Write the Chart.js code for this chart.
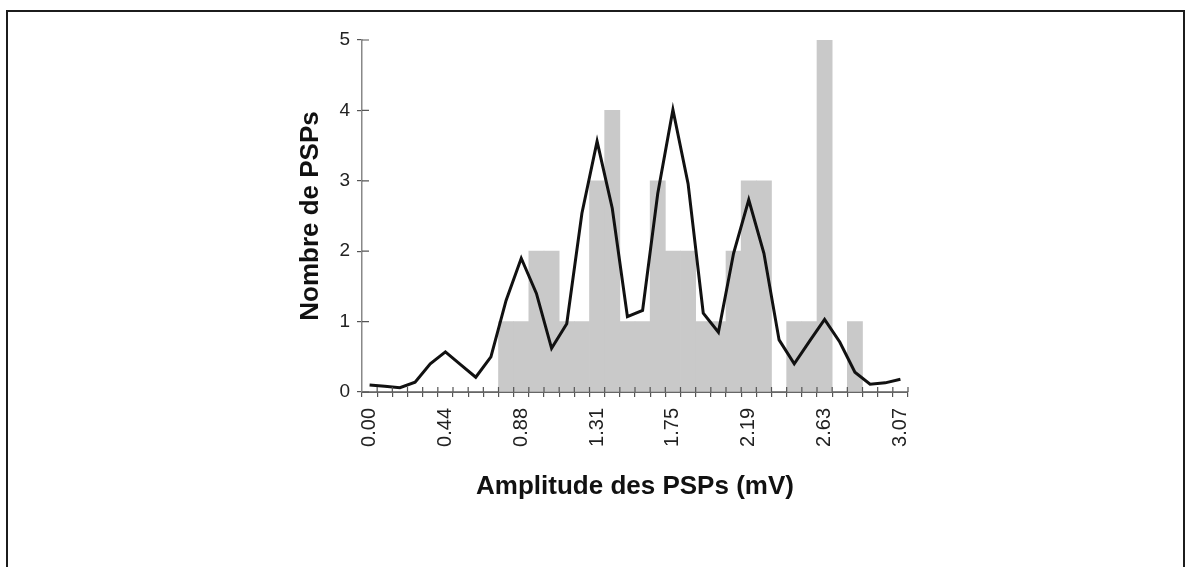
<!DOCTYPE html>
<html>
<head>
<meta charset="utf-8">
<script src="https://cdn.jsdelivr.net/npm/chart.js@4.4.1/dist/chart.umd.min.js"></script>
<style>
  html, body { margin:0; padding:0; background:#fff; overflow:hidden; }
  #wrap { position:relative; width:1186px; height:567px; overflow:hidden; }
  #frame { position:absolute; left:6px; top:10px; width:1179px; height:600px; border:2px solid #1c1c1c; box-sizing:border-box; pointer-events:none; }
</style>
</head>
<body>
<div id="wrap">
  <canvas id="myChart" width="1186" height="567"></canvas>
  <div id="frame"></div>
</div>
<script>
// classes d'amplitude (mV), une par barre
const amplitudes = ['0.00','0.09','0.18','0.26','0.35','0.44','0.53','0.61','0.70','0.79',
                    '0.88','0.96','1.05','1.14','1.23','1.31','1.40','1.49','1.58','1.66',
                    '1.75','1.84','1.93','2.01','2.10','2.19','2.28','2.37','2.45','2.54',
                    '2.63','2.72','2.80','2.89','2.98','3.07']
const tickLabels = ['0.00','0.44','0.88','1.31','1.75','2.19','2.63','3.07']
// histogramme (nombre de PSPs)
const counts = [0,0,0,0,0,0,0,0,0,1,
                1,2,2,1,1,3,4,1,1,3,
                2,2,1,1,2,3,3,0,1,1,
                5,0,1,0,0,0]
// courbe lissée
const smoothed = [0.10,0.08,0.06,0.14,0.40,0.57,0.39,0.21,0.50,1.30,
                  1.90,1.40,0.62,0.97,2.54,3.56,2.61,1.07,1.16,2.82,
                  4.01,2.96,1.12,0.85,1.97,2.73,1.97,0.74,0.40,0.72,
                  1.03,0.71,0.28,0.11,0.13,0.18]
const yMax = 5

const FONT = '"Liberation Sans", Arial, Helvetica, sans-serif'

// petits traits qui traversent les axes + titres des axes
const axisDecor = {
    id: 'axisDecor',
    afterDatasetsDraw(chart){
        const {ctx, chartArea, scales} = chart
        ctx.save()
        ctx.strokeStyle = '#555'
        ctx.lineWidth = 1.2
        const n = amplitudes.length
        const w = (chartArea.right - chartArea.left) / n
        ctx.beginPath()
        for(let k=1; k<=n; k++){
            const px = chartArea.left + k*w
            ctx.moveTo(px, chartArea.bottom)
            ctx.lineTo(px, chartArea.bottom - 5)
        }
        for(let v=0; v<=yMax; v++){
            const py = scales.y.getPixelForValue(v)
            ctx.moveTo(chartArea.left, py)
            ctx.lineTo(chartArea.left + 7, py)
        }
        ctx.stroke()
        ctx.restore()
    },
    afterDraw(chart){
        const {ctx, chartArea} = chart
        ctx.save()
        ctx.fillStyle = '#111'
        ctx.font = 'bold 26px ' + FONT
        ctx.textAlign = 'center'
        ctx.textBaseline = 'alphabetic'
        ctx.fillText('Amplitude des PSPs (mV)', (chartArea.left + chartArea.right)/2, 494)
        ctx.translate(318, (chartArea.top + chartArea.bottom)/2)
        ctx.rotate(-Math.PI/2)
        ctx.fillText('Nombre de PSPs', 0, 0)
        ctx.restore()
    }
}

const ctx = document.getElementById('myChart')
const myChart = new Chart(ctx, {
    type: 'bar',
    data: {
        labels: amplitudes,
        datasets: [{
            type: 'line',
            data: smoothed,
            borderColor: '#111',
            borderWidth: 3,
            pointRadius: 0,
            tension: 0,
            fill: false,
            order: 0
        },{
            data: counts,
            backgroundColor: '#c9c9c9',
            borderWidth: 0,
            barPercentage: 1,
            categoryPercentage: 1,
            order: 1
        }]
    },
    options: {
        responsive: false,
        animation: false,
        layout: { padding: { left: 270, right: 278, top: 40, bottom: 0 } },
        plugins: { legend: { display: false }, tooltip: { enabled: false } },
        scales: {
            x: {
                afterFit(scale){ scale.height = 175 },
                grid: { offset: true, drawOnChartArea: false, tickLength: 5, color: '#555', lineWidth: 1.2 },
                border: { color: '#666', width: 2 },
                ticks: {
                    autoSkip: false,
                    maxRotation: 90,
                    minRotation: 90,
                    padding: 11,
                    color: '#222',
                    font: { family: FONT, size: 20 },
                    callback: function(value, index){
                        const a = amplitudes[index]
                        return tickLabels.includes(a) ? a : ''
                    }
                }
            },
            y: {
                min: 0,
                max: yMax,
                afterFit(scale){ scale.width = 92 },
                grid: { drawOnChartArea: false, tickLength: 5, color: '#555', lineWidth: 1.2 },
                border: { color: '#888', width: 1.5 },
                ticks: {
                    stepSize: 1,
                    padding: 7,
                    color: '#222',
                    font: { family: FONT, size: 19 }
                }
            }
        }
    },
    plugins: [axisDecor]
})
</script>
</body>
</html>
